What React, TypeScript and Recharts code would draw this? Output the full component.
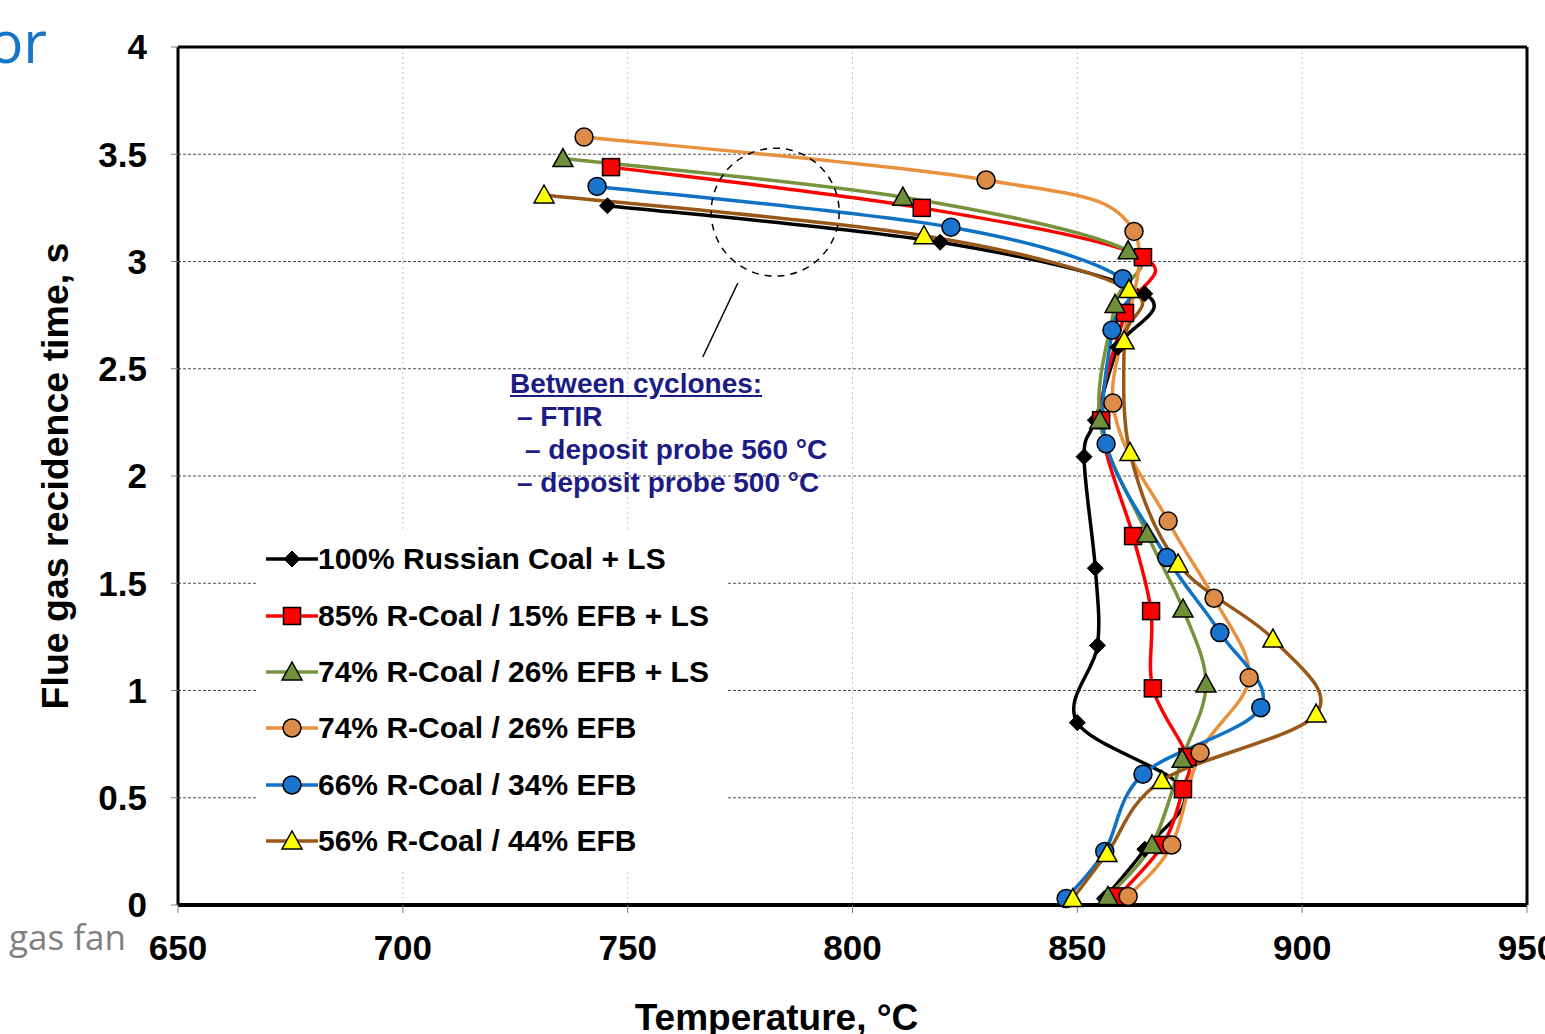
import React from 'react'
import {
  LineChart,
  Line,
  XAxis,
  YAxis,
  CartesianGrid,
  ReferenceLine,
  ReferenceDot,
  Legend,
} from 'recharts'

const FONT = '"Liberation Sans", Arial, Helvetica, sans-serif'

// axes
const xTicks = [650, 700, 750, 800, 850, 900, 950]
const yTicks = [0, 0.5, 1, 1.5, 2, 2.5, 3, 3.5, 4]

const seriesNames = [
  '100% Russian Coal + LS',
  '85% R-Coal / 15% EFB + LS',
  '74% R-Coal / 26% EFB + LS',
  '74% R-Coal / 26% EFB',
  '66% R-Coal / 34% EFB',
  '56% R-Coal / 44% EFB',
]

// residence time (s) and temperature (°C) per series
const coalTime = [0.03, 0.26, 0.54, 0.85, 1.21, 1.57, 2.09, 2.26, 2.6, 2.85, 3.09, 3.26]
const coalTemp = [856, 865, 873.5, 850, 854.5, 854, 851.5, 854, 859, 865, 819.5, 745.5]

const efb15Time = [0.04, 0.28, 0.54, 0.69, 1.01, 1.37, 1.72, 2.26, 2.76, 3.02, 3.25, 3.44]
const efb15Temp = [859, 869, 873.5, 874.5, 866.8, 866.4, 862.4, 855.3, 860.6, 864.6, 815.4, 746.3]

const efb26LsTime = [0.04, 0.28, 0.68, 1.03, 1.38, 1.73, 2.26, 2.8, 3.05, 3.3, 3.48]
const efb26LsTemp = [856.8, 866.6, 873.3, 878.6, 873.5, 865.5, 855, 858.4, 861.3, 811.2, 735.6]

const efb26Time = [0.04, 0.28, 0.71, 1.06, 1.43, 1.79, 2.34, 3.14, 3.38, 3.58]
const efb26Temp = [861.3, 871, 877.3, 888.2, 880.4, 870.2, 857.9, 862.6, 829.7, 740.3]

const efb34Time = [0.03, 0.25, 0.61, 0.92, 1.27, 1.62, 2.15, 2.68, 2.92, 3.16, 3.35]
const efb34Temp = [847.5, 856.1, 864.6, 890.8, 881.7, 869.9, 856.4, 857.7, 860.1, 821.9, 743.2]

const efb44Time = [0.03, 0.24, 0.58, 0.89, 1.24, 1.59, 2.11, 2.63, 2.87, 3.12, 3.31]
const efb44Temp = [849, 856.6, 868.8, 903.1, 893.5, 872.4, 861.7, 860.4, 861.5, 815.9, 731.4]

type Shape = 'diamond' | 'square' | 'triangle' | 'circle'

const toRows = (time: number[], temp: number[]) => time.map((t, i) => ({ t, T: temp[i] }))

const series: { name: string; data: { t: number; T: number }[]; stroke: string; fill: string; shape: Shape }[] = [
  { name: seriesNames[0], data: toRows(coalTime, coalTemp), stroke: '#000000', fill: '#000000', shape: 'diamond' },
  { name: seriesNames[1], data: toRows(efb15Time, efb15Temp), stroke: '#ff0000', fill: '#ff0000', shape: 'square' },
  { name: seriesNames[2], data: toRows(efb26LsTime, efb26LsTemp), stroke: '#77933c', fill: '#6f8f3a', shape: 'triangle' },
  { name: seriesNames[3], data: toRows(efb26Time, efb26Temp), stroke: '#e8913f', fill: '#dc8b48', shape: 'circle' },
  { name: seriesNames[4], data: toRows(efb34Time, efb34Temp), stroke: '#0f72c4', fill: '#1a73cc', shape: 'circle' },
  { name: seriesNames[5], data: toRows(efb44Time, efb44Temp), stroke: '#9a5818', fill: '#ffff00', shape: 'triangle' },
]

// Excel-like smoothed line (Catmull-Rom through the points)
const excelSmooth = (context: any) => {
  let pts: [number, number][] = []
  return {
    areaStart() {},
    areaEnd() {},
    lineStart() {
      pts = []
    },
    point(x: number, y: number) {
      pts.push([+x, +y])
    },
    lineEnd() {
      if (!pts.length) return
      context.moveTo(pts[0][0], pts[0][1])
      for (let i = 0; i < pts.length - 1; i++) {
        const p0 = pts[Math.max(i - 1, 0)]
        const p1 = pts[i]
        const p2 = pts[i + 1]
        const p3 = pts[Math.min(i + 2, pts.length - 1)]
        context.bezierCurveTo(
          p1[0] + (p2[0] - p0[0]) / 6,
          p1[1] + (p2[1] - p0[1]) / 6,
          p2[0] - (p3[0] - p1[0]) / 6,
          p2[1] - (p3[1] - p1[1]) / 6,
          p2[0],
          p2[1],
        )
      }
    },
  }
}

function Marker({ shape, cx, cy, fill }: { shape: Shape; cx: number; cy: number; fill: string }) {
  if (shape === 'diamond') {
    return (
      <polygon
        points={`${cx},${cy - 8} ${cx + 8},${cy} ${cx},${cy + 8} ${cx - 8},${cy}`}
        fill="#000"
        stroke="#000"
        strokeWidth={1}
      />
    )
  }
  if (shape === 'square') {
    return <rect x={cx - 8.5} y={cy - 8.5} width={17} height={17} fill={fill} stroke="#000" strokeWidth={1.5} />
  }
  if (shape === 'triangle') {
    return (
      <polygon
        points={`${cx},${cy - 10} ${cx + 10},${cy + 8} ${cx - 10},${cy + 8}`}
        fill={fill}
        stroke="#000"
        strokeWidth={1.5}
      />
    )
  }
  return <circle cx={cx} cy={cy} r={9} fill={fill} stroke="#000" strokeWidth={1.5} />
}

function LegendBox() {
  return (
    <div style={{ background: '#fff', width: 469, height: 339 }}>
      {series.map((s) => (
        <div key={s.name} style={{ display: 'flex', alignItems: 'center', height: 56.4, paddingLeft: 8 }}>
          <svg width={52} height={30} style={{ display: 'block' }}>
            <line x1={0} y1={15} x2={52} y2={15} stroke={s.stroke} strokeWidth={3.5} />
            <Marker shape={s.shape} cx={26} cy={15} fill={s.fill} />
          </svg>
          <span style={{ font: `bold 30px ${FONT}`, color: '#000', whiteSpace: 'nowrap' }}>{s.name}</span>
        </div>
      ))}
    </div>
  )
}

const tickStyle = { fill: '#000', fontSize: 35, fontWeight: 'bold', fontFamily: FONT }

export default function App() {
  return (
    <div style={{ position: 'absolute', left: 0, top: 0, width: 1545, height: 1034, overflow: 'hidden', background: '#fff' }}>
      <LineChart
        width={1545}
        height={1034}
        layout="vertical"
        margin={{ top: 47, right: 18, bottom: 0, left: 0 }}
      >
        <CartesianGrid horizontal={false} vertical stroke="#c4c4c4" strokeDasharray="2 3" />
        <CartesianGrid horizontal vertical={false} stroke="#505050" strokeDasharray="3 2" />
        <XAxis
          type="number"
          domain={[650, 950]}
          ticks={xTicks}
          interval={0}
          height={129}
          tickSize={8}
          tickMargin={22}
          tick={tickStyle}
          tickLine={{ stroke: '#808080' }}
          axisLine={{ stroke: '#000', strokeWidth: 4 }}
          label={{
            value: 'Temperature, °C',
            position: 'insideBottom',
            offset: 4,
            dx: -76,
            style: { fontSize: 37, fontWeight: 'bold', fill: '#000', fontFamily: FONT },
          }}
        />
        <YAxis
          type="number"
          dataKey="t"
          domain={[0, 4]}
          reversed
          ticks={yTicks}
          interval={0}
          width={178}
          tickSize={7}
          tickMargin={24}
          tick={tickStyle}
          tickLine={{ stroke: '#808080' }}
          axisLine={{ stroke: '#000', strokeWidth: 3 }}
          label={{
            value: 'Flue gas recidence time, s',
            angle: -90,
            position: 'insideLeft',
            offset: 55,
            style: { textAnchor: 'middle', fontSize: 37.5, fontWeight: 'bold', fill: '#000', fontFamily: FONT },
          }}
        />
        <ReferenceLine x={950} stroke="#000" strokeWidth={3} />
        <ReferenceLine y={4} stroke="#000" strokeWidth={3} />
        <ReferenceDot x={782.8} y={3.23} r={64} fill="none" stroke="#000" strokeWidth={1.5} strokeDasharray="7 6" />
        <ReferenceLine
          segment={[
            { x: 774.5, y: 2.9 },
            { x: 766.7, y: 2.555 },
          ]}
          stroke="#000"
          strokeWidth={1.5}
        />
        {series.map((s) => (
          <Line
            key={s.name}
            name={s.name}
            data={s.data}
            dataKey="T"
            type={excelSmooth as any}
            stroke={s.stroke}
            strokeWidth={3.5}
            isAnimationActive={false}
            activeDot={false}
            dot={(p: any) => <Marker key={`${s.name}-${p.index}`} shape={s.shape} cx={p.cx} cy={p.cy} fill={s.fill} />}
          />
        ))}
        <Legend
          layout="vertical"
          align="center"
          verticalAlign="middle"
          wrapperStyle={{ left: 258, top: 531, width: 469, height: 339 }}
          content={() => <LegendBox />}
        />
      </LineChart>

      <div
        style={{
          position: 'absolute',
          left: 510,
          top: 367,
          color: '#1c1c84',
          font: `bold 28px ${FONT}`,
          lineHeight: '33px',
          whiteSpace: 'nowrap',
        }}
      >
        <div style={{ textDecoration: 'underline' }}>Between cyclones:</div>
        <div style={{ paddingLeft: 7 }}>– FTIR</div>
        <div style={{ paddingLeft: 15 }}>– deposit probe 560 °C</div>
        <div style={{ paddingLeft: 7 }}>– deposit probe 500 °C</div>
      </div>

      <div
        style={{
          position: 'absolute',
          left: -155,
          top: 6,
          width: 202,
          textAlign: 'right',
          color: '#1576c8',
          font: `58px "Open Sans", "Noto Sans", sans-serif`,
          lineHeight: '70px',
        }}
      >
        or
      </div>
      <div
        style={{
          position: 'absolute',
          left: 9,
          top: 917,
          color: '#808080',
          font: `35px "Open Sans", "Noto Sans", sans-serif`,
          lineHeight: '40px',
          whiteSpace: 'nowrap',
        }}
      >
        gas fan
      </div>
    </div>
  )
}
